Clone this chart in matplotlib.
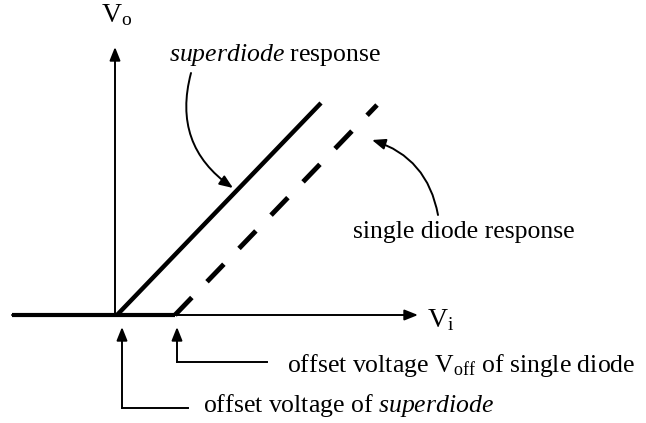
import matplotlib.pyplot as plt

plt.rcParams['font.family'] = 'Liberation Serif'
plt.rcParams['mathtext.fontset'] = 'custom'
plt.rcParams['mathtext.rm'] = 'Liberation Serif'
plt.rcParams['mathtext.it'] = 'Liberation Serif:italic'

# Transfer curves (arbitrary units, origin at the axes crossing)
vi_super = [0, 204]
vo_super = [0, 212]
v_off = 58
vi_single = [v_off, 260]
vo_single = [0, 210]
vi_flat = [-105, v_off]
vo_flat = [0, 0]

fig = plt.figure(figsize=(6.46, 4.23), dpi=100)
ax = fig.add_axes([0, 0, 1, 1])
ax.set_xlim(-117, 529)
ax.set_ylim(-108, 315)
ax.axis('off')

head = dict(arrowstyle='-|>,head_length=0.8,head_width=0.32', color='black', lw=1.4,
            shrinkA=0, shrinkB=0)

# axes
ax.annotate('', xy=(301, 0), xytext=(-105, 0), arrowprops=head)
ax.annotate('', xy=(-2, 268), xytext=(-2, 0), arrowprops=head)
ax.text(-16, 300, r'V$_\mathrm{o}$', fontsize=20, va='center')
ax.text(310, -5, r'V$_\mathrm{i}$', fontsize=20, va='center')

# responses
ax.plot(vi_flat, vo_flat, color='black', lw=3, solid_capstyle='butt')
ax.plot(vi_super, vo_super, color='black', lw=3.2, solid_capstyle='butt')
ax.plot(vi_single, vo_single, color='black', lw=3.5, dashes=(5, 4.5))

fs = 18.5
# labels with curved pointers
ax.text(52, 260, r'$\mathit{superdiode}$ response', fontsize=fs, va='center')
ax.annotate('', xy=(116, 127), xytext=(74, 242),
            arrowprops=dict(head, connectionstyle='arc3,rad=0.35'))
ax.text(236, 83, 'single diode response', fontsize=fs, va='center')
ax.annotate('', xy=(255, 175), xytext=(321, 100),
            arrowprops=dict(head, connectionstyle='arc3,rad=0.3'))

# offset markers
ax.annotate('', xy=(5, -12), xytext=(5, -93), arrowprops=head)
ax.plot([5, 71], [-93, -93], color='black', lw=1.4)
ax.text(86, -90, r'offset voltage of $\mathit{superdiode}$', fontsize=fs, va='center')

ax.annotate('', xy=(v_off + 2, -12), xytext=(v_off + 2, -47), arrowprops=head)
ax.plot([v_off + 2, 150], [-47, -47], color='black', lw=1.4)
ax.text(170, -50, r'offset voltage V$_\mathrm{off}$ of single diode', fontsize=fs, va='center')

fig.savefig('out.png', dpi=100)
